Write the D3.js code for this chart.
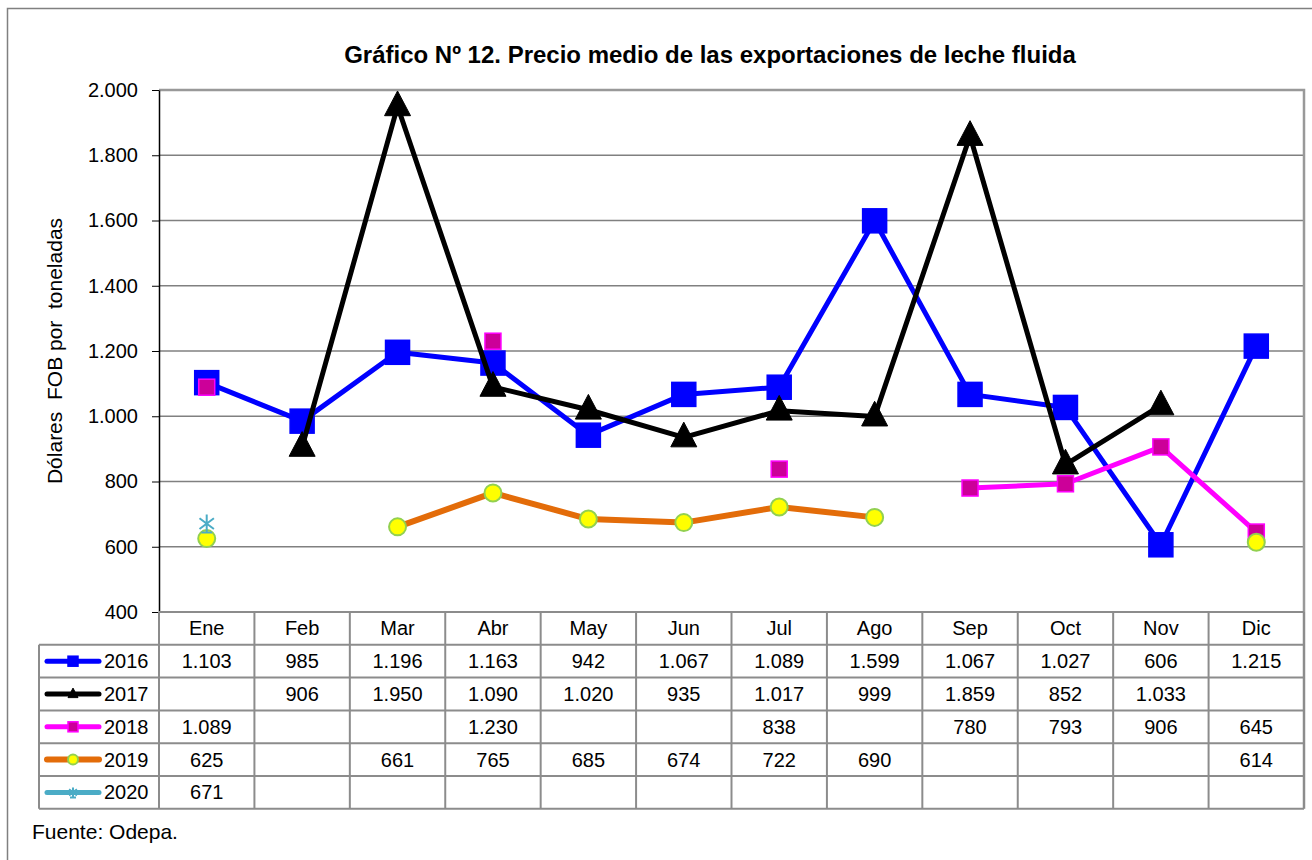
<!DOCTYPE html>
<html>
<head>
<meta charset="utf-8">
<script src="https://cdn.jsdelivr.net/npm/d3@7"></script>
<style>
  body { margin: 0; background: #fff; }
  svg text { font-family: "Liberation Sans", Arial, sans-serif; white-space: pre; }
</style>
</head>
<body>
<svg id="chart" width="1312" height="860"></svg>
<script>
var months = ["Ene", "Feb", "Mar", "Abr", "May", "Jun", "Jul", "Ago", "Sep", "Oct", "Nov", "Dic"];
var years = ["2016", "2017", "2018", "2019", "2020"];
var v2016 = [1103, 985, 1196, 1163, 942, 1067, 1089, 1599, 1067, 1027, 606, 1215];
var v2017 = [null, 906, 1950, 1090, 1020, 935, 1017, 999, 1859, 852, 1033, null];
var v2018 = [1089, null, null, 1230, null, null, 838, null, 780, 793, 906, 645];
var v2019 = [625, null, 661, 765, 685, 674, 722, 690, null, null, null, 614];
var v2020 = [671, null, null, null, null, null, null, null, null, null, null, null];
var yTicks = [400, 600, 800, 1000, 1200, 1400, 1600, 1800, 2000];

var styles = {
  "2016": {line: "#0000ff", width: 5, marker: "square", size: 24, fill: "#0000ff", stroke: "#0000ff"},
  "2017": {line: "#000000", width: 5, marker: "triangle", size: 26, fill: "#000000", stroke: "#000000"},
  "2018": {line: "#ff00ff", width: 5, marker: "square", size: 16, fill: "#cc0099", stroke: "#ff00ff"},
  "2019": {line: "#e36c09", width: 6, marker: "circle", size: 17, fill: "#ffff00", stroke: "#92d050"},
  "2020": {line: "#4bacc6", width: 5, marker: "star", size: 18, fill: "none", stroke: "#4bacc6"}
};
var series = [v2016, v2017, v2018, v2019, v2020].map(function(v, i) {
  return {year: years[i], values: v};
});

function fmt(n) {
  if (n == null) return "";
  var s = String(n);
  return s.length > 3 ? s.slice(0, s.length - 3) + "." + s.slice(-3) : s;
}

var svg = d3.select("#chart");
var pLeft = 159, pRight = 1304, pTop = 90, pBottom = 612;
var rowH = 32.8, legL = 39, fs = 20;

// outer frame
svg.append("rect").attr("x", 7.5).attr("y", 8.5).attr("width", 1320).attr("height", 900)
  .attr("fill", "none").attr("stroke", "#808080").attr("stroke-width", 1.5);

var x = d3.scaleBand().domain(months).range([pLeft, pRight]);
var y = d3.scaleLinear().domain([400, 2000]).range([pBottom, pTop]);

// gridlines
svg.append("g").selectAll("line").data(yTicks.slice(1)).join("line")
  .attr("x1", pLeft).attr("x2", pRight)
  .attr("y1", function(d) { return y(d); }).attr("y2", function(d) { return y(d); })
  .attr("stroke", "#808080").attr("stroke-width", 1.3);

// plot border (top/right)
svg.append("path")
  .attr("d", "M" + pLeft + "," + pTop + "H" + pRight + "V" + pBottom)
  .attr("fill", "none").attr("stroke", "#999").attr("stroke-width", 2.5);

// y axis
var yAxis = svg.append("g").attr("transform", "translate(" + pLeft + ",0)")
  .call(d3.axisLeft(y).tickValues(yTicks).tickSize(7).tickSizeOuter(0).tickFormat(fmt));
yAxis.select(".domain").attr("stroke", "#000").attr("stroke-width", 1.5);
yAxis.selectAll(".tick line").attr("stroke", "#000");
yAxis.selectAll(".tick text").attr("font-size", fs).attr("fill", "#000")
  .attr("font-family", "Liberation Sans, Arial, sans-serif").attr("x", -21);

svg.append("text")
  .attr("transform", "translate(62," + (pTop + pBottom) / 2 + ") rotate(-90)")
  .attr("text-anchor", "middle").attr("font-size", 21)
  .text("Dólares  FOB por  toneladas");

svg.append("text").attr("x", 710).attr("y", 63).attr("text-anchor", "middle")
  .attr("font-size", 24).attr("font-weight", "bold")
  .text("Gráfico Nº 12. Precio medio de las exportaciones de leche fluida");

function cx(i) { return x(months[i]) + x.bandwidth() / 2; }

function marker(g, type, size, fill, stroke) {
  if (type === "square") {
    g.append("rect").attr("x", -size / 2).attr("y", -size / 2).attr("width", size).attr("height", size)
      .attr("fill", fill).attr("stroke", stroke).attr("stroke-width", 1.5);
  } else if (type === "triangle") {
    var h = size * 0.95;
    g.append("path").attr("d", "M0," + (-h * 0.62) + "L" + (size / 2) + "," + (h * 0.38) + "L" + (-size / 2) + "," + (h * 0.38) + "Z")
      .attr("fill", fill).attr("stroke", stroke);
  } else if (type === "circle") {
    g.append("circle").attr("r", size / 2).attr("fill", fill).attr("stroke", stroke).attr("stroke-width", 2);
  } else if (type === "star") {
    var r = size / 2;
    g.append("path")
      .attr("d", "M0," + (-r) + "V" + r + "M" + (-r * 0.8) + "," + (-r * 0.6) + "L" + (r * 0.8) + "," + (r * 0.6) +
        "M" + (-r * 0.8) + "," + (r * 0.6) + "L" + (r * 0.8) + "," + (-r * 0.6) + "M" + (-r * 0.6) + "," + r + "H" + (r * 0.6))
      .attr("stroke", stroke).attr("stroke-width", 2).attr("fill", "none");
  }
}

var line = d3.line()
  .defined(function(d) { return d != null; })
  .x(function(d, i) { return cx(i); })
  .y(function(d) { return y(d); });

series.forEach(function(s) {
  var st = styles[s.year];
  svg.append("path").datum(s.values)
    .attr("fill", "none").attr("stroke", st.line).attr("stroke-width", st.width)
    .attr("stroke-linejoin", "round").attr("d", line);
  s.values.forEach(function(v, i) {
    if (v == null) return;
    var g = svg.append("g").attr("transform", "translate(" + cx(i) + "," + y(v) + ")");
    marker(g, st.marker, st.size, st.fill, st.stroke);
  });
});

// data table
var tb = svg.append("g");
var gridColor = "#8c8c8c";
var nRows = years.length;
var tableBottom = pBottom + rowH * (nRows + 1);
tb.append("line").attr("x1", pLeft).attr("x2", pRight).attr("y1", pBottom).attr("y2", pBottom)
  .attr("stroke", gridColor).attr("stroke-width", 2);
for (var r = 1; r <= nRows + 1; r++) {
  tb.append("line").attr("x1", legL).attr("x2", pRight)
    .attr("y1", pBottom + rowH * r).attr("y2", pBottom + rowH * r)
    .attr("stroke", gridColor).attr("stroke-width", 2);
}
tb.append("line").attr("x1", legL).attr("x2", legL).attr("y1", pBottom + rowH).attr("y2", tableBottom)
  .attr("stroke", gridColor).attr("stroke-width", 2);
months.forEach(function(m, i) {
  tb.append("line").attr("x1", x(m)).attr("x2", x(m)).attr("y1", pBottom).attr("y2", tableBottom)
    .attr("stroke", gridColor).attr("stroke-width", 2);
});
tb.append("line").attr("x1", pRight).attr("x2", pRight).attr("y1", pBottom).attr("y2", tableBottom)
  .attr("stroke", gridColor).attr("stroke-width", 2.5);

months.forEach(function(m, i) {
  tb.append("text").attr("x", cx(i)).attr("y", pBottom + rowH / 2 + 7)
    .attr("text-anchor", "middle").attr("font-size", fs).text(m);
});

series.forEach(function(s, r) {
  var st = styles[s.year];
  var yc = pBottom + rowH * (r + 1.5);
  tb.append("line").attr("x1", 47).attr("x2", 99).attr("y1", yc).attr("y2", yc)
    .attr("stroke", st.line).attr("stroke-width", st.width).attr("stroke-linecap", "round");
  var g = tb.append("g").attr("transform", "translate(73," + yc + ")");
  marker(g, st.marker, 10, st.fill, st.stroke);
  tb.append("text").attr("x", 104).attr("y", yc + 7).attr("font-size", fs).text(s.year);
  s.values.forEach(function(v, i) {
    if (v == null) return;
    tb.append("text").attr("x", cx(i)).attr("y", yc + 7)
      .attr("text-anchor", "middle").attr("font-size", fs).text(fmt(v));
  });
});

svg.append("text").attr("x", 32).attr("y", 839).attr("font-size", 21).text("Fuente: Odepa.");
</script>
</body>
</html>
